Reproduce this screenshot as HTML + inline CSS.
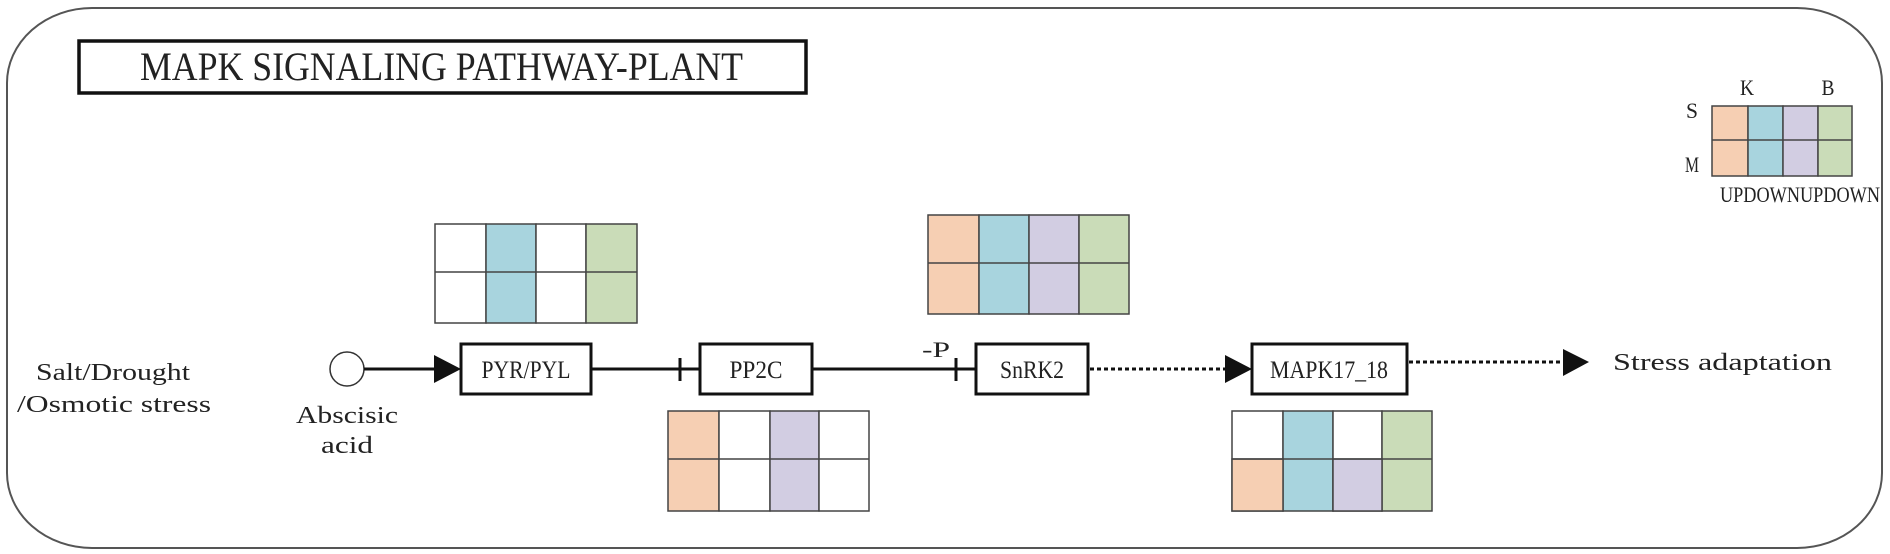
<!DOCTYPE html>
<html><head><meta charset="utf-8"><style>
html,body{margin:0;padding:0;background:#fff;}
svg{display:block;}
text{font-family:"Liberation Serif",serif;fill:#222;}
</style></head><body>
<svg width="1890" height="554" viewBox="0 0 1890 554" xmlns="http://www.w3.org/2000/svg">
<defs>
<marker id="ah" markerWidth="10" markerHeight="10" refX="10" refY="5" orient="auto" markerUnits="userSpaceOnUse"></marker>
</defs>
<rect x="7" y="8" width="1875" height="540" rx="85" ry="75" fill="#fff" stroke="#555" stroke-width="2"/>
<!-- Title -->
<rect x="79" y="41" width="727" height="52" fill="#fff" stroke="#111" stroke-width="3.5"/>
<text x="140" y="80" font-size="40" textLength="603" lengthAdjust="spacingAndGlyphs">MAPK SIGNALING PATHWAY-PLANT</text>

<!-- Legend -->
<g stroke="#444" stroke-width="1.5">
<rect x="1712" y="106" width="36" height="70" fill="#f6cfb3"/>
<rect x="1748" y="106" width="35" height="70" fill="#a8d4de"/>
<rect x="1783" y="106" width="35" height="70" fill="#d2cde2"/>
<rect x="1818" y="106" width="34" height="70" fill="#cadcb8"/>
<line x1="1712" y1="140" x2="1852" y2="140"/>
</g>
<text x="1747" y="95" font-size="22" text-anchor="middle" textLength="14" lengthAdjust="spacingAndGlyphs">K</text>
<text x="1828" y="95" font-size="22" text-anchor="middle" textLength="13" lengthAdjust="spacingAndGlyphs">B</text>
<text x="1692" y="118" font-size="22" text-anchor="middle" textLength="12" lengthAdjust="spacingAndGlyphs">S</text>
<text x="1692" y="172" font-size="22" text-anchor="middle" textLength="14" lengthAdjust="spacingAndGlyphs">M</text>
<text x="1720" y="202" font-size="22" textLength="160" lengthAdjust="spacingAndGlyphs">UPDOWNUPDOWN</text>

<!-- Grid PYR (top) -->
<g stroke="#444" stroke-width="1.5">
<rect x="435" y="224" width="51" height="99" fill="#fff"/>
<rect x="486" y="224" width="50" height="99" fill="#a8d4de"/>
<rect x="536" y="224" width="50" height="99" fill="#fff"/>
<rect x="586" y="224" width="51" height="99" fill="#cadcb8"/>
<line x1="435" y1="272" x2="637" y2="272"/>
</g>
<!-- Grid SnRK2 (top) -->
<g stroke="#444" stroke-width="1.5">
<rect x="928" y="215" width="51" height="99" fill="#f6cfb3"/>
<rect x="979" y="215" width="50" height="99" fill="#a8d4de"/>
<rect x="1029" y="215" width="50" height="99" fill="#d2cde2"/>
<rect x="1079" y="215" width="50" height="99" fill="#cadcb8"/>
<line x1="928" y1="263" x2="1129" y2="263"/>
</g>
<!-- Grid PP2C (bottom) -->
<g stroke="#444" stroke-width="1.5">
<rect x="668" y="411" width="51" height="100" fill="#f6cfb3"/>
<rect x="719" y="411" width="51" height="100" fill="#fff"/>
<rect x="770" y="411" width="49" height="100" fill="#d2cde2"/>
<rect x="819" y="411" width="50" height="100" fill="#fff"/>
<line x1="668" y1="459" x2="869" y2="459"/>
</g>
<!-- Grid MAPK (bottom) -->
<g stroke="#444" stroke-width="1.5">
<rect x="1232" y="411" width="51" height="100" fill="#fff"/>
<rect x="1283" y="411" width="50" height="100" fill="#a8d4de"/>
<rect x="1333" y="411" width="49" height="100" fill="#fff"/>
<rect x="1382" y="411" width="50" height="100" fill="#cadcb8"/>
<rect x="1232" y="459" width="51" height="52" fill="#f6cfb3"/>
<rect x="1333" y="459" width="49" height="52" fill="#d2cde2"/>
<line x1="1232" y1="459" x2="1432" y2="459"/>
</g>

<!-- Left labels -->
<text x="36" y="380" font-size="24" textLength="154" lengthAdjust="spacingAndGlyphs">Salt/Drought</text>
<text x="17" y="412" font-size="24" textLength="194" lengthAdjust="spacingAndGlyphs">/Osmotic stress</text>

<!-- Circle + Abscisic -->
<circle cx="347" cy="369" r="17" fill="#fff" stroke="#333" stroke-width="1.5"/>
<text x="347" y="423" font-size="24" text-anchor="middle" textLength="102" lengthAdjust="spacingAndGlyphs">Abscisic</text>
<text x="347" y="453" font-size="24" text-anchor="middle" textLength="52" lengthAdjust="spacingAndGlyphs">acid</text>

<!-- Connectors -->
<g stroke="#111" stroke-width="3" fill="none">
<line x1="364" y1="369" x2="440" y2="369"/>
<line x1="591" y1="369" x2="680" y2="369"/>
<line x1="680" y1="358" x2="680" y2="381"/>
<line x1="680" y1="369" x2="700" y2="369"/>
<line x1="812" y1="369" x2="956" y2="369"/>
<line x1="956" y1="358" x2="956" y2="381"/>
<line x1="956" y1="369" x2="976" y2="369"/>
<line x1="1090" y1="369" x2="1228" y2="369" stroke-dasharray="4 3"/>
<line x1="1409" y1="362" x2="1566" y2="362" stroke-dasharray="4 3"/>
</g>
<polygon points="434,355 461,369 434,383" fill="#111"/>
<polygon points="1225,355 1252,369 1225,383" fill="#111"/>
<polygon points="1563,349 1589,362 1563,376" fill="#111"/>

<text x="922" y="357" font-size="22" textLength="28" lengthAdjust="spacingAndGlyphs">-P</text>

<!-- Boxes -->
<g fill="#fff" stroke="#111" stroke-width="3">
<rect x="461" y="344" width="130" height="50"/>
<rect x="700" y="344" width="112" height="50"/>
<rect x="976" y="344" width="112" height="50"/>
<rect x="1252" y="344" width="155" height="50"/>
</g>
<text x="526" y="378" font-size="25" text-anchor="middle" textLength="89" lengthAdjust="spacingAndGlyphs">PYR/PYL</text>
<text x="756" y="378" font-size="25" text-anchor="middle" textLength="53" lengthAdjust="spacingAndGlyphs">PP2C</text>
<text x="1032" y="378" font-size="25" text-anchor="middle" textLength="64" lengthAdjust="spacingAndGlyphs">SnRK2</text>
<text x="1329" y="378" font-size="25" text-anchor="middle" textLength="118" lengthAdjust="spacingAndGlyphs">MAPK17_18</text>

<text x="1613" y="370" font-size="24" textLength="219" lengthAdjust="spacingAndGlyphs">Stress adaptation</text>
</svg>
</body></html>
